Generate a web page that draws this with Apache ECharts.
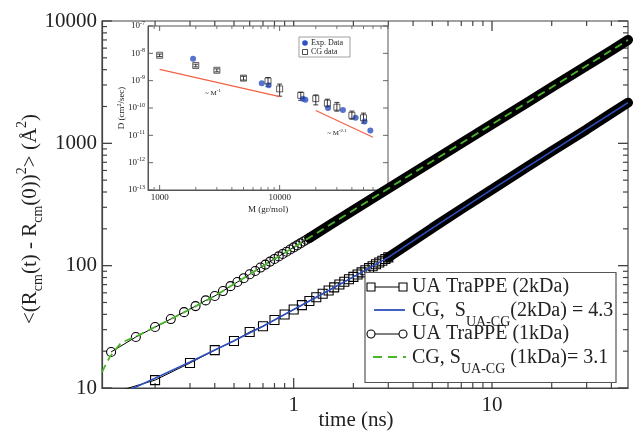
<!DOCTYPE html>
<html><head><meta charset="utf-8">
<script src="https://cdn.jsdelivr.net/npm/echarts@6/dist/echarts.min.js"></script>
<style>html,body{margin:0;padding:0;background:#fff}#c{width:635px;height:432px}</style>
</head><body><div id="c"></div>
<script>
const FONT = 'Liberation Serif';
// ---------------- main chart data (time in ns, MSD in A^2) ----------------
const tCircles = [0.12,0.16,0.20,0.24,0.28,0.32,0.36,0.40,0.44,0.48,0.52,0.56,0.60,0.64,0.68,0.72,0.76,0.80,0.84,0.88,0.92,0.96,1.00,1.04,1.08,1.12,1.16,1.20];
const msdCircles = [19.7,26.1,31.5,36.6,41.7,46.7,52,56.5,62,68,73.5,79,85,90.5,96.5,102,108,113.5,119,124.5,130,135.5,141,146.5,152,157.5,163,168.5];
const tCirclesDense = [1.2,1.5,2,3,5,7,10,15,20,30,40,48.5];
const msdCirclesDense = [168.5,212,284,428,715,1000,1430,2150,2870,4300,5750,7000];
const tSquares = [0.1,0.2,0.3,0.4,0.5,0.6,0.7,0.8,0.9,1.0,1.1,1.2,1.3,1.4,1.5,1.6,1.7,1.8,1.9,2.0,2.1,2.2,2.3,2.4,2.5,2.6,2.7,2.8,2.9,3.0];
const msdSquares = [8.3,11.6,16.0,20.4,24.2,28.7,32,36,39.9,43.8,47.6,51.4,55.2,58.9,62.7,66.4,70.1,73.8,77.4,81,84.6,88.2,91.8,95.4,99,102.6,106.2,109.8,113.4,117];
const tSquaresDense = [3,5,7,10,15,20,30,40,48.5];
const msdSquaresDense = [117,203,290,420,640,860,1300,1760,2150];
const tCG2 = [0.1,0.2,0.3,0.5,0.7,1,1.5,2,3,5,10,20,48.5];
const msdCG2 = [7.2,12.0,16.3,24.3,32,43.8,62.7,81,117,203,420,860,2150];
const tCG1 = [0.108,0.118,0.135,0.16,0.2,0.3,0.4,0.6,0.8,1,2,5,10,20,48.5];
const msdCG1 = [13.5,17.9,23.5,26.3,31.5,44,56.5,85,113.5,141,284,715,1430,2870,7000];
const xMajor = [1,10];
const xMinor = [0.2,0.3,0.4,0.5,0.6,0.7,0.8,0.9,2,3,4,5,6,7,8,9,20,30,40];
const yMajor = [10,100,1000,10000];
const yMinor = [20,30,40,50,60,70,80,90,200,300,400,500,600,700,800,900,2000,3000,4000,5000,6000,7000,8000,9000];
// ---------------- inset data (M in gr/mol, D in cm^2/sec) ----------------
const expM = [1900,7100,8100,15600,16400,25300,33700,43000,51000,57000];
const expD = [6.3e-9,8.1e-10,6.8e-10,2.2e-10,2.0e-10,1.0e-10,8.5e-11,4.4e-11,3.2e-11,1.5e-11];
const cgM = [1000,2000,3000,5000,8000,10000,15000,20000,25000,30000,40000,50000];
const cgD = [8.5e-9,3.6e-9,2.4e-9,1.24e-9,9.8e-10,5.0e-10,2.9e-10,2.2e-10,1.5e-10,1.07e-10,5.4e-11,4.4e-11];
const cgLow = [7.6e-9,3.2e-9,2.1e-9,1.05e-9,6.2e-10,2.7e-10,1.9e-10,1.3e-10,1.1e-10,7.7e-11,3.9e-11,2.8e-11];
const cgHigh = [9.4e-9,4.0e-9,2.7e-9,1.45e-9,1.3e-9,7.5e-10,3.8e-10,3.0e-10,2.1e-10,1.6e-10,7.7e-11,6.5e-11];
const fit1M = [1000,10000], fit1D = [2.6e-9,2.6e-10];
const fit2M = [20000,60000], fit2D = [8.1e-11,8.5e-12];
const inXMajor = [1000,10000];
const inXMinor = [900,2000,3000,4000,5000,6000,7000,8000,9000,20000,30000,40000,50000,60000,70000,80000];
const inYMajor = [1e-13,1e-12,1e-11,1e-10,1e-9,1e-8,1e-7];

const zip = (a,b) => a.map((v,i)=>[v,b[i]]);
const AX = '#444', TXT = '#222';
const MAIN = {xMin:0.108, xMax:48.5, yMin:10, yMax:10000};
const INS = {xMin:800, xMax:80000, yMin:1e-13, yMax:1e-7};

// inside tick marks, mirrored on both sides, placed through the axes' own scales
function xTicks(ai, vals, yRef, len, z, color, lw) {
  return {type:'custom', xAxisIndex:ai, yAxisIndex:ai, z:z,
    data: vals.map(v=>[v,yRef]), encode:{x:0,y:1},
    renderItem:(params, api)=>{
      const p = api.coord([api.value(0), api.value(1)]); const cs = params.coordSys;
      const st = {stroke:color, lineWidth:lw};
      return {type:'group', children:[
        {type:'line', shape:{x1:p[0],y1:cs.y+cs.height,x2:p[0],y2:cs.y+cs.height-len}, style:st},
        {type:'line', shape:{x1:p[0],y1:cs.y,x2:p[0],y2:cs.y+len}, style:st}]};
    }};
}
function yTicks(ai, vals, xRef, len, z, color, lw) {
  return {type:'custom', xAxisIndex:ai, yAxisIndex:ai, z:z,
    data: vals.map(v=>[xRef,v]), encode:{x:0,y:1},
    renderItem:(params, api)=>{
      const p = api.coord([api.value(0), api.value(1)]); const cs = params.coordSys;
      const st = {stroke:color, lineWidth:lw};
      return {type:'group', children:[
        {type:'line', shape:{x1:cs.x,y1:p[1],x2:cs.x+len,y2:p[1]}, style:st},
        {type:'line', shape:{x1:cs.x+cs.width,y1:p[1],x2:cs.x+cs.width-len,y2:p[1]}, style:st}]};
    }};
}

const noTick = {show:false};
const chart = echarts.init(document.getElementById('c'), null, {renderer:'canvas'});
const legY = [287, 310, 334, 357];
const legRich = {sub:{fontFamily:FONT, fontSize:14, color:TXT, verticalAlign:'bottom', lineHeight:12}, n:{fontFamily:FONT, fontSize:20, color:TXT, lineHeight:36}};
const supS = {fontSize:6, fontFamily:FONT, color:TXT, verticalAlign:'top', lineHeight:12};
chart.setOption({
  animation:false,
  grid:[
    {left:102, top:21, width:526, height:367, show:true, backgroundColor:'transparent', borderColor:AX, borderWidth:1.2, z:0, outerBoundsMode:'none', containLabel:false},
    {left:148, top:26, width:240, height:164, show:true, backgroundColor:'#fff', borderColor:'#555', borderWidth:1, z:3, outerBoundsMode:'none', containLabel:false}
  ],
  xAxis:[
    {type:'log', gridIndex:0, min:MAIN.xMin, max:MAIN.xMax, position:'bottom', splitLine:{show:false}, axisTick:noTick, minorTick:{show:false},
      axisLine:{show:true, onZero:false, lineStyle:{color:AX, width:1.2}},
      axisLabel:{show:true, customValues:xMajor, margin:7, fontFamily:FONT, fontSize:21, color:TXT, formatter:v=>String(Math.round(v))},
      name:'time (ns)', nameLocation:'middle', nameGap:22, nameMoveOverlap:false, nameTextStyle:{fontFamily:FONT, fontSize:21, color:TXT, padding:[0,18,0,0]}},
    {type:'log', gridIndex:1, min:INS.xMin, max:INS.xMax, position:'bottom', splitLine:{show:false}, axisTick:noTick, minorTick:{show:false}, z:4,
      axisLine:{show:true, onZero:false, lineStyle:{color:'#555', width:1}},
      axisLabel:{show:true, customValues:inXMajor, margin:3, fontFamily:FONT, fontSize:9, color:TXT, formatter:v=>String(Math.round(v))},
      name:'M (gr/mol)', nameLocation:'middle', nameGap:15, nameMoveOverlap:false, nameTextStyle:{fontFamily:FONT, fontSize:9, color:TXT}}
  ],
  yAxis:[
    {type:'log', gridIndex:0, min:MAIN.yMin, max:MAIN.yMax, position:'left', splitLine:{show:false}, axisTick:noTick, minorTick:{show:false},
      axisLine:{show:true, onZero:false, lineStyle:{color:AX, width:1.2}},
      axisLabel:{show:true, customValues:yMajor, margin:5, fontFamily:FONT, fontSize:21, color:TXT, formatter:v=>String(Math.round(v))}},
    {type:'log', gridIndex:1, min:INS.yMin, max:INS.yMax, position:'left', splitLine:{show:false}, axisTick:noTick, minorTick:{show:false}, z:4,
      axisLine:{show:true, onZero:false, lineStyle:{color:'#555', width:1}},
      axisLabel:{show:true, customValues:inYMajor, margin:3, formatter:v=>'{b|10}{s|'+Math.round(Math.log10(v))+'}',
        rich:{s:supS, b:{fontSize:9, fontFamily:FONT, color:TXT, lineHeight:12}}},
      name:'D (cm{s|2}/sec)', nameLocation:'middle', nameGap:20, nameMoveOverlap:false, nameTextStyle:{fontFamily:FONT, fontSize:9, color:TXT, lineHeight:12, rich:{s:supS}}}
  ],
  series:[
    xTicks(0, xMajor, MAIN.yMin, 10, 2, AX, 1.3), xTicks(0, xMinor, MAIN.yMin, 5, 2, AX, 1.2),
    yTicks(0, yMajor, MAIN.xMin, 10, 2, AX, 1.3), yTicks(0, yMinor, MAIN.xMin, 5, 2, AX, 1.2),
    xTicks(1, inXMajor, INS.yMin, 5, 5, '#555', 0.9), xTicks(1, inXMinor, INS.yMin, 3, 5, '#555', 0.8),
    yTicks(1, inYMajor, INS.xMin, 5, 5, '#555', 0.9),
    {type:'line', xAxisIndex:1, yAxisIndex:1, data:zip(fit1M,fit1D), symbol:'none', lineStyle:{color:'#f26246', width:1.3}, z:5},
    {type:'line', xAxisIndex:1, yAxisIndex:1, data:zip(fit2M,fit2D), symbol:'none', lineStyle:{color:'#f26246', width:1.3}, z:5},
    {type:'custom', xAxisIndex:1, yAxisIndex:1, data:cgM.map((m,i)=>[m,cgLow[i],cgHigh[i]]), encode:{x:0,y:[1,2]}, z:5,
      renderItem:(params, api)=>{
        const p1 = api.coord([api.value(0), api.value(1)]), p2 = api.coord([api.value(0), api.value(2)]);
        const w = 2.5, st = {stroke:'#222', lineWidth:0.9};
        return {type:'group', children:[
          {type:'line', shape:{x1:p1[0],y1:p1[1],x2:p2[0],y2:p2[1]}, style:st},
          {type:'line', shape:{x1:p1[0]-w,y1:p1[1],x2:p1[0]+w,y2:p1[1]}, style:st},
          {type:'line', shape:{x1:p2[0]-w,y1:p2[1],x2:p2[0]+w,y2:p2[1]}, style:st}
        ]};
      }},
    {type:'scatter', xAxisIndex:1, yAxisIndex:1, data:zip(expM,expD), symbol:'circle', symbolSize:6, itemStyle:{color:'#2d50c4'}, z:6},
    {type:'scatter', xAxisIndex:1, yAxisIndex:1, data:zip(cgM,cgD), symbol:'rect', symbolSize:6, itemStyle:{color:'rgba(0,0,0,0)', borderColor:'#222', borderWidth:0.9}, z:6},
    {name:'UA TraPPE (1kDa) dense', type:'line', data:zip(tCirclesDense,msdCirclesDense), symbol:'none', lineStyle:{color:'#000', width:10, cap:'round'}, z:7},
    {name:'UA TraPPE (1kDa)', type:'line', data:zip(tCircles,msdCircles), symbol:'circle', symbolSize:9, showAllSymbol:true,
      itemStyle:{color:'rgba(0,0,0,0)', borderColor:'#000', borderWidth:1.1}, lineStyle:{color:'#000', width:1}, z:7},
    {name:'UA TraPPE (2kDa) dense', type:'line', data:zip(tSquaresDense,msdSquaresDense), symbol:'none', lineStyle:{color:'#000', width:10, cap:'round'}, z:7},
    {name:'UA TraPPE (2kDa)', type:'line', data:zip(tSquares,msdSquares), symbol:'rect', symbolSize:9, showAllSymbol:true,
      itemStyle:{color:'rgba(0,0,0,0)', borderColor:'#000', borderWidth:1.1}, lineStyle:{color:'#000', width:1}, z:7},
    {name:'CG 2kDa', type:'line', data:zip(tCG2,msdCG2), symbol:'none', lineStyle:{color:'#2f4fbf', width:1.6}, z:8},
    {name:'CG 1kDa', type:'line', data:zip(tCG1,msdCG1), symbol:'none', lineStyle:{color:'#49b62a', width:1.8, type:[8,5]}, z:8}
  ],
  graphic:[
    {type:'text', x:30, y:219, rotation:Math.PI/2, z:10, style:{text:'<(R{sub|cm}(t) - R{sub|cm}(0)){sup|2}> (Å{sup|2})', align:'center', verticalAlign:'middle',
      rich:{sub:{fontFamily:FONT,fontSize:14,fill:TXT,verticalAlign:'bottom',lineHeight:10}, sup:{fontFamily:FONT,fontSize:14,fill:TXT,verticalAlign:'top',lineHeight:10}},
      fontFamily:FONT, fontSize:21, fill:TXT, lineHeight:30}},
    {type:'rect', z:10, shape:{x:365, y:272.5, width:251, height:110}, style:{fill:'#fff', stroke:'#555', lineWidth:1.2}},
    {type:'line', z:11, shape:{x1:375,y1:legY[0],x2:399,y2:legY[0]}, style:{stroke:'#000',lineWidth:1}},
    {type:'rect', z:11, shape:{x:367,y:legY[0]-4,width:8,height:8}, style:{fill:'none',stroke:'#000',lineWidth:1.1}},
    {type:'rect', z:11, shape:{x:399,y:legY[0]-4,width:8,height:8}, style:{fill:'none',stroke:'#000',lineWidth:1.1}},
    {type:'text', z:11, x:412, y:legY[0], style:{text:'UA TraPPE (2kDa)', fontFamily:FONT, fontSize:20, fill:TXT, verticalAlign:'middle'}},
    {type:'line', z:11, shape:{x1:374,y1:legY[1],x2:405,y2:legY[1]}, style:{stroke:'#2f4fbf',lineWidth:1.8}},
    {type:'text', z:11, x:412, y:legY[1]+1, style:{text:'{n|CG,  S}{sub|UA-CG}{n|(2kDa) = 4.3}', verticalAlign:'middle', rich:legRich, fontFamily:FONT, fontSize:20, fill:TXT}},
    {type:'line', z:11, shape:{x1:375,y1:legY[2],x2:399,y2:legY[2]}, style:{stroke:'#000',lineWidth:1}},
    {type:'circle', z:11, shape:{cx:371,cy:legY[2],r:4}, style:{fill:'none',stroke:'#000',lineWidth:1.1}},
    {type:'circle', z:11, shape:{cx:403,cy:legY[2],r:4}, style:{fill:'none',stroke:'#000',lineWidth:1.1}},
    {type:'text', z:11, x:412, y:legY[2], style:{text:'UA TraPPE (1kDa)', fontFamily:FONT, fontSize:20, fill:TXT, verticalAlign:'middle'}},
    {type:'line', z:11, shape:{x1:373,y1:legY[3],x2:406,y2:legY[3]}, style:{stroke:'#49b62a',lineWidth:1.8,lineDash:[9,6]}},
    {type:'text', z:11, x:412, y:legY[3]+1, style:{text:'{n|CG, S}{sub|UA-CG}{n| (1kDa)= 3.1}', verticalAlign:'middle', rich:legRich, fontFamily:FONT, fontSize:20, fill:TXT}},
    {type:'rect', z:10, shape:{x:299, y:37, width:51, height:20}, style:{fill:'#fff', stroke:'#888', lineWidth:0.8}},
    {type:'circle', z:11, shape:{cx:305,cy:43,r:2.8}, style:{fill:'#2d50c4'}},
    {type:'text', z:11, x:311, y:43, style:{text:'Exp. Data', fontFamily:FONT, fontSize:8, fill:TXT, verticalAlign:'middle'}},
    {type:'rect', z:11, shape:{x:302.5,y:49.5,width:5,height:5}, style:{fill:'none',stroke:'#222',lineWidth:0.8}},
    {type:'text', z:11, x:311, y:52, style:{text:'CG data', fontFamily:FONT, fontSize:8, fill:TXT, verticalAlign:'middle'}},
    {type:'text', z:11, x:213, y:93, style:{text:'~ M{s|-1}', align:'center', verticalAlign:'middle', fontFamily:FONT, fontSize:7, fill:TXT, rich:{s:{fontSize:5, fontFamily:FONT, fill:TXT, verticalAlign:'top', lineHeight:10}}, lineHeight:10}},
    {type:'text', z:11, x:337, y:133, style:{text:'~ M{s|-2.1}', align:'center', verticalAlign:'middle', fontFamily:FONT, fontSize:7, fill:TXT, rich:{s:{fontSize:5, fontFamily:FONT, fill:TXT, verticalAlign:'top', lineHeight:10}}, lineHeight:10}}
  ]
});
</script></body></html>
